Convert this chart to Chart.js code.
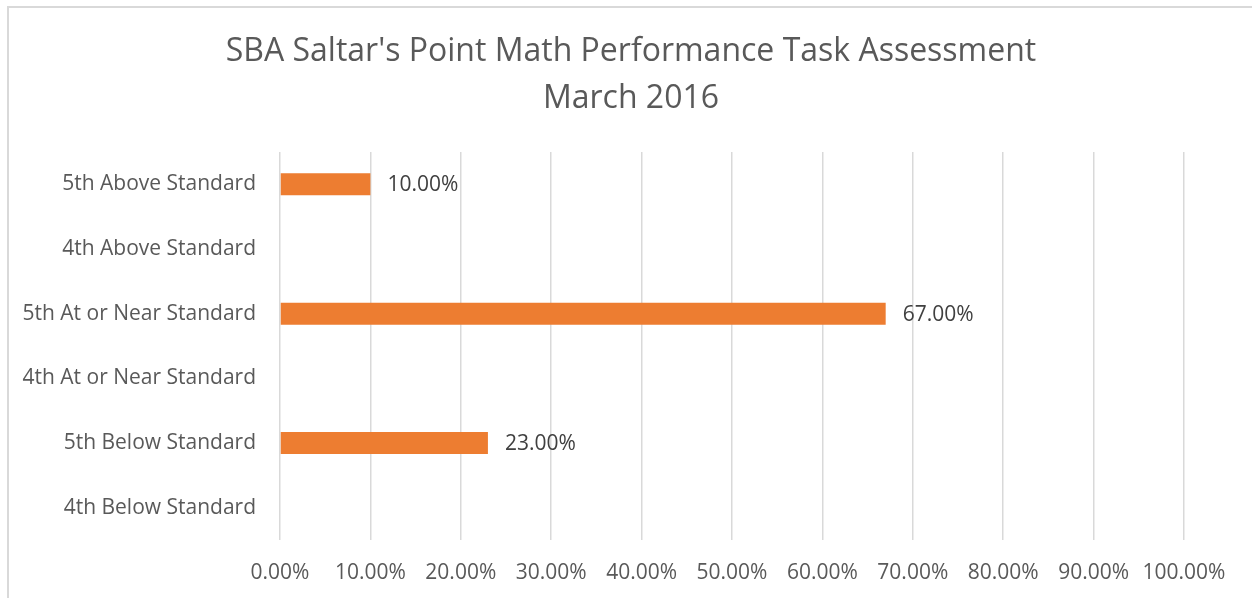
<!DOCTYPE html>
<html lang="en">
<head>
  <meta charset="UTF-8" />
  <title>SBA Saltar's Point Math Performance Task Assessment</title>
  <script src="https://cdn.jsdelivr.net/npm/chart.js"></script>
  <style>
    html, body { margin: 0; padding: 0; background: #fff; overflow: hidden; }
    #wrap { position: relative; width: 1252px; height: 598px; }
    #frame { position: absolute; left: 7px; top: 6px; width: 1300px; height: 700px;
             border-left: 2px solid #d9d9d9; border-top: 2px solid #d9d9d9; }
    canvas { position: absolute; left: 0; top: 0; }
  </style>
</head>
<body>
  <div id="wrap">
    <div id="frame"></div>
    <canvas id="chart" width="1252" height="598"></canvas>
  </div>

  <script>
    // chart data
    const titleLines = ["SBA Saltar's Point Math Performance Task Assessment", "March 2016"];
    const categories = [
      "5th Above Standard",
      "4th Above Standard",
      "5th At or Near Standard",
      "4th At or Near Standard",
      "5th Below Standard",
      "4th Below Standard"
    ];
    const percentValues = [10, null, 67, null, 23, null];
    const tickValues = [0, 10, 20, 30, 40, 50, 60, 70, 80, 90, 100];

    const textColor = "#595959";
    const fontFamily = "'Open Sans', 'Noto Sans', sans-serif";

    // title is centred on the whole chart frame, not on the plot area
    const frameTitle = {
      id: "frameTitle",
      afterDraw(chart) {
        const ctx = chart.ctx;
        ctx.save();
        ctx.font = "32px " + fontFamily;
        ctx.fillStyle = textColor;
        ctx.textAlign = "center";
        ctx.textBaseline = "middle";
        titleLines.forEach((line, i) => ctx.fillText(line, 631, 52 + i * 47));
        ctx.restore();
      }
    };

    // value labels just past the end of each bar
    const barLabels = {
      id: "barLabels",
      afterDatasetsDraw(chart) {
        const ctx = chart.ctx;
        const meta = chart.getDatasetMeta(0);
        ctx.save();
        ctx.font = "21px " + fontFamily;
        ctx.fillStyle = "#404040";
        ctx.textAlign = "left";
        ctx.textBaseline = "middle";
        meta.data.forEach((bar, i) => {
          const v = percentValues[i];
          if (v === null) return;
          ctx.fillText(v.toFixed(2) + "%", bar.x + 17, bar.y + 1);
        });
        ctx.restore();
      }
    };

    new Chart(document.getElementById("chart"), {
      type: "bar",
      data: {
        labels: categories,
        datasets: [{
          data: percentValues,
          backgroundColor: "#ed7d31",
          borderWidth: 0,
          categoryPercentage: 1,
          barPercentage: 0.34
        }]
      },
      options: {
        indexAxis: "y",
        responsive: false,
        animation: false,
        layout: { padding: { left: 0, right: 68, top: 152, bottom: 13 } },
        plugins: {
          legend: { display: false },
          tooltip: { enabled: false },
          title: { display: false }
        },
        scales: {
          x: {
            min: 0,
            max: 100,
            afterBuildTicks(axis) {
              axis.ticks = tickValues.map(v => ({ value: v }));
            },
            afterFit(axis) { axis.height = 45; },
            grid: { color: "#d9d9d9", lineWidth: 1.5, drawTicks: false },
            border: { display: false },
            ticks: {
              color: textColor,
              padding: 20,
              maxRotation: 0,
              font: { family: fontFamily, size: 21 },
              callback: v => v.toFixed(2) + "%"
            }
          },
          y: {
            grid: { display: false, drawTicks: false },
            border: { display: false },
            afterFit(axis) { axis.width = 280; },
            ticks: {
              color: textColor,
              padding: 24,
              font: { family: fontFamily, size: 21 }
            }
          }
        }
      },
      plugins: [barLabels, frameTitle]
    });
  </script>
</body>
</html>
